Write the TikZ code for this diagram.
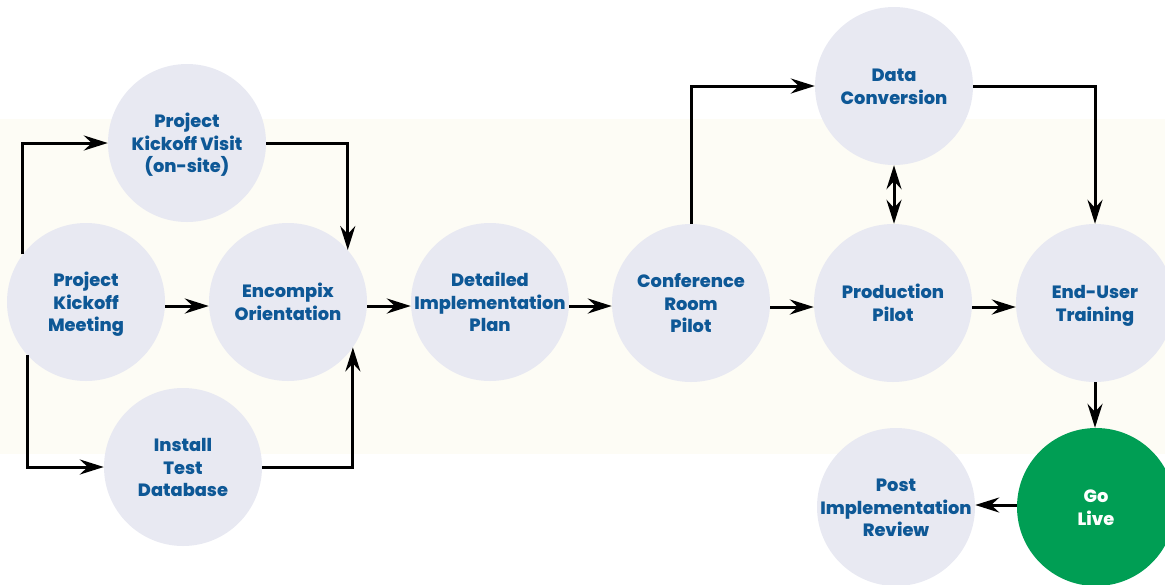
\documentclass[tikz,border=0pt]{standalone}
\usepackage{fontspec}
\setmainfont{Poppins}[BoldFont={Poppins ExtraBold}]
\usetikzlibrary{arrows.meta}
\definecolor{circfill}{RGB}{232,233,242}
\definecolor{txtblue}{RGB}{14,88,150}
\definecolor{golive}{RGB}{0,158,84}
\definecolor{bandcol}{RGB}{253,252,245}
\newcommand\stgtext[1]{\raisebox{-7pt}[0pt][0pt]{\makebox[0pt]{\begin{tabular}{@{}c@{}}#1\end{tabular}}}}
\begin{document}
\begin{tikzpicture}[x=1pt,y=-1pt,
  stage/.style={circle,fill=circfill,minimum size=158pt,inner sep=0pt,
    text=txtblue,font=\fontsize{17.8}{22.5}\selectfont\bfseries},
  gostage/.style={stage,fill=golive,text=white},
  tip/.tip={Stealth[length=24pt,width=15pt,inset=8pt]},
  arr/.style={line width=3pt,-tip},
  darr/.style={line width=3pt,tip-tip}]
\useasboundingbox (0,0) rectangle (1165,584);
\fill[bandcol] (0,119) rectangle (1165,454);
\node[stage] (meet) at (86,302) {\stgtext{Project\\Kickoff\\Meeting}};
\node[stage] (visit) at (187,143) {\stgtext{Project\\Kickoff Visit\\(on-site)}};
\node[stage] (install) at (183,467) {\stgtext{Install\\Test\\Database}};
\node[stage] (enc) at (288,302) {\stgtext{Encompix\\Orientation}};
\node[stage] (det) at (490,302) {\stgtext{Detailed\\Implementation\\Plan}};
\node[stage] (conf) at (691,303) {\stgtext{Conference\\Room\\Pilot}};
\node[stage] (data) at (894,86) {\stgtext{Data\\Conversion}};
\node[stage] (prod) at (893,303) {\stgtext{Production\\Pilot}};
\node[stage] (endu) at (1095,303) {\stgtext{End-User\\Training}};
\node[gostage] (go) at (1096,507) {\stgtext{Go\\Live}};
\node[stage] (post) at (896,507) {\stgtext{Post\\Implementation\\Review}};
\draw[arr] (meet.143) |- (visit.west);
\draw[arr] (meet.-138) |- (install.west);
\draw[arr] (visit.east) -| (enc.41);
\draw[arr] (install.east) -| (enc.-35);
\draw[arr] ([yshift=-4pt]meet.east) -- ([yshift=-4pt]enc.west);
\draw[arr] ([yshift=-4pt]enc.east) -- ([yshift=-4pt]det.west);
\draw[arr] ([yshift=-4pt]det.east) -- ([yshift=-4pt]det.east -| conf.west);
\draw[arr] ([yshift=-4pt]conf.east) -- ([yshift=-4pt]prod.west);
\draw[arr] ([yshift=-4pt]prod.east) -- ([yshift=-4pt]endu.west);
\draw[arr] (conf.north) |- (data.west);
\draw[arr] (data.east) -| (endu.north);
\draw[darr] (data.south) -- (data.south |- prod.north);
\draw[arr] (endu.south) -- (endu.south |- go.north);
\draw[arr] ([yshift=2pt]go.west) -- ([yshift=2pt]post.east);
\end{tikzpicture}
\end{document}
